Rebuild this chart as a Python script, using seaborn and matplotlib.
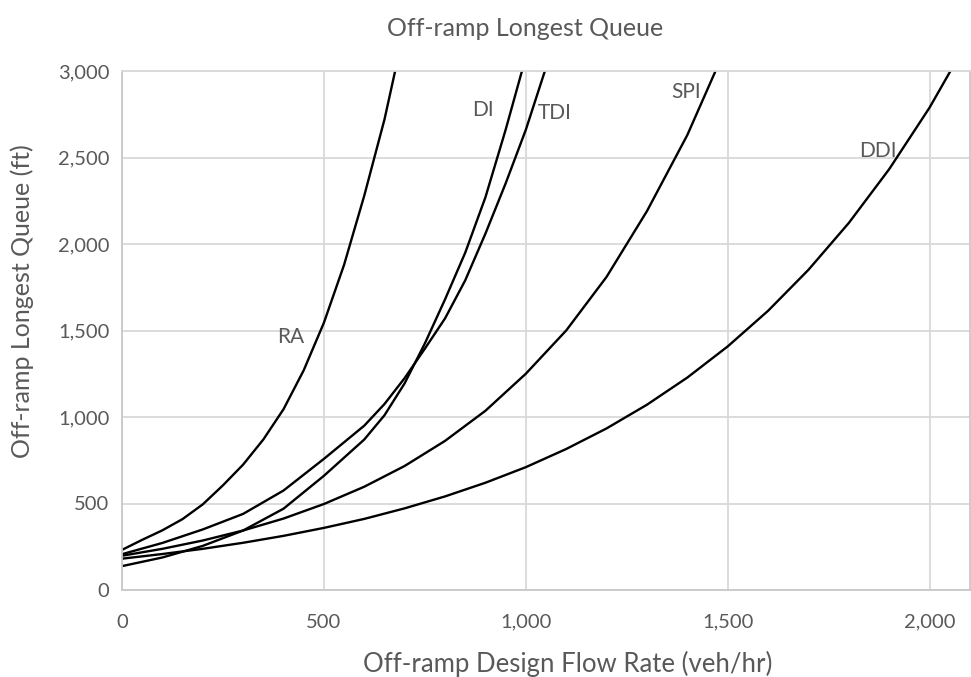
import numpy as np
import pandas as pd
import matplotlib
matplotlib.use("Agg")
import matplotlib.pyplot as plt
import seaborn as sns

# values (flow in veh/hr, queue in ft)
ra_flow = [0, 50, 100, 150, 200, 250, 300, 350, 400, 450, 500, 550, 600, 650, 700]
ra_queue = [232, 290, 345, 410, 495, 605, 725, 870, 1045, 1270, 1545, 1880, 2280, 2720, 3250]

di_flow = [0, 100, 200, 300, 400, 500, 600, 650, 700, 750, 800, 850, 900, 950, 1000]
di_queue = [138, 188, 255, 344, 470, 660, 870, 1010, 1195, 1425, 1680, 1950, 2270, 2660, 3080]

tdi_flow = [0, 100, 200, 300, 400, 500, 600, 650, 700, 750, 800, 850, 900, 950, 1000, 1050]
tdi_queue = [207, 272, 350, 440, 575, 758, 950, 1075, 1225, 1395, 1570, 1790, 2060, 2350, 2660, 3020]

spi_flow = [0, 100, 200, 300, 400, 500, 600, 700, 800, 900, 1000, 1100, 1200, 1300, 1400, 1500]
spi_queue = [198, 238, 286, 344, 413, 497, 597, 717, 862, 1036, 1250, 1500, 1810, 2190, 2630, 3160]

ddi_flow = [0, 100, 200, 300, 400, 500, 600, 700, 800, 900, 1000, 1100, 1200, 1300, 1400,
            1500, 1600, 1700, 1800, 1900, 2000, 2100]
ddi_queue = [181, 208, 238, 273, 313, 359, 411, 472, 541, 620, 710, 815, 934, 1071, 1228,
             1408, 1614, 1851, 2122, 2433, 2789, 3198]

series = [
    ("RA", ra_flow, ra_queue),
    ("DI", di_flow, di_queue),
    ("TDI", tdi_flow, tdi_queue),
    ("SPI", spi_flow, spi_queue),
    ("DDI", ddi_flow, ddi_queue),
]

# label positions in data coords
label_pos = {
    "RA": (418, 1465),
    "DI": (894, 2772),
    "TDI": (1072, 2760),
    "SPI": (1396, 2876),
    "DDI": (1871, 2535),
}

df = pd.concat([
    pd.DataFrame({"flow": x, "queue": y, "type": name})
    for name, x, y in series
], ignore_index=True)

sns.set_theme(style="whitegrid")
plt.rcParams['font.family'] = ['Lato', 'DejaVu Sans']

text_col = "#595959"
grid_col = "#d9d9d9"

fig = plt.figure(figsize=(9.71, 6.77), dpi=100)
ax = fig.add_axes([122 / 971, 1 - 590 / 677, 848 / 971, 519 / 677])

sns.lineplot(
    data=df, x="flow", y="queue", hue="type",
    palette=["black"] * len(series),
    estimator=None, sort=False, legend=False,
    linewidth=1.7, ax=ax,
)

ax.set_xlim(0, 2100)
ax.set_ylim(0, 3000)
ax.set_xticks([0, 500, 1000, 1500, 2000])
ax.set_yticks(range(0, 3001, 500))
ax.xaxis.set_major_formatter(matplotlib.ticker.StrMethodFormatter("{x:,.0f}"))
ax.yaxis.set_major_formatter(matplotlib.ticker.StrMethodFormatter("{x:,.0f}"))
ax.tick_params(axis="both", length=0, labelsize=14.5, labelcolor=text_col)
ax.tick_params(axis="x", pad=17)
ax.tick_params(axis="y", pad=9)
ax.grid(True, color=grid_col, linewidth=1.3)
for side in ["left", "bottom", "top", "right"]:
    ax.spines[side].set_visible(True)
    ax.spines[side].set_color("#c8c8c8")
    ax.spines[side].set_linewidth(1.3)
ax.spines["top"].set_color(grid_col)

for name, (lx, ly) in label_pos.items():
    ax.text(lx, ly, name, fontsize=15, color=text_col, ha="center", va="center")

ax.set_xlabel("Off-ramp Design Flow Rate (veh/hr)", fontsize=18.5, color=text_col)
ax.set_ylabel("Off-ramp Longest Queue (ft)", fontsize=18, color=text_col)
ax.xaxis.set_label_coords(0.525, -0.118)
ax.yaxis.set_label_coords(-0.104, 0.557)
fig.suptitle("Off-ramp Longest Queue", x=525 / 971, y=1 - 28 / 677, va="center",
             fontsize=18, color=text_col)

fig.savefig("out.png", dpi=100, facecolor="white")
